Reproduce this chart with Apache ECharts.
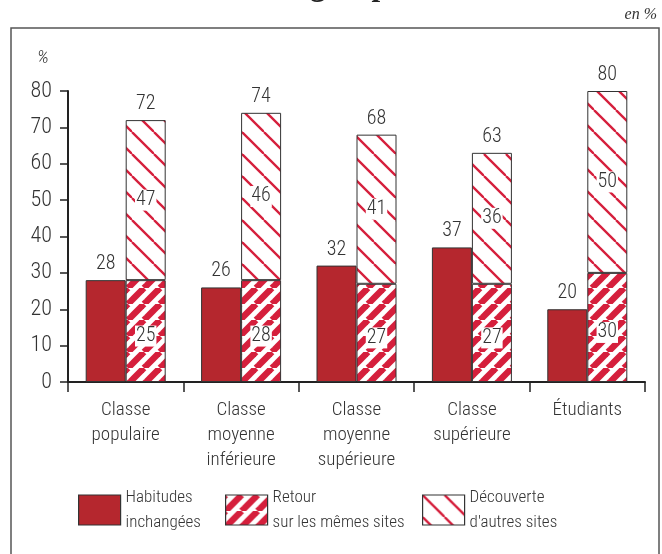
<!DOCTYPE html>
<html>
<head>
<meta charset="utf-8">
<style>
  html, body { margin: 0; padding: 0; background: #fff; }
  #chart { width: 662px; height: 554px; }
</style>
<script src="https://cdn.jsdelivr.net/npm/echarts@6/dist/echarts.min.js"></script>
</head>
<body>
<div id="chart"></div>
<script>
// data
const categories = ['Classe\npopulaire', 'Classe\nmoyenne\ninférieure', 'Classe\nmoyenne\nsupérieure', 'Classe\nsupérieure', 'Étudiants'];
const habitudes = [28, 26, 32, 37, 20];
// printed labels
const retourLabels = [25, 28, 27, 27, 30];
const decouverteLabels = [47, 46, 41, 36, 50];
const totals = [72, 74, 68, 63, 80];
// heights as drawn (the first red block is drawn up to 28)
const retourBars = [28, 28, 27, 27, 30];
const yTicks = [0, 10, 20, 30, 40, 50, 60, 70, 80];

const seriesNames = ['Habitudes inchangées', 'Retour sur les mêmes sites', "Découverte d'autres sites"];
const legendText = {
  'Habitudes inchangées': 'Habitudes\ninchangées',
  'Retour sur les mêmes sites': 'Retour\nsur les mêmes sites',
  "Découverte d'autres sites": "Découverte\nd'autres sites"
};

// Roboto with font-stretch condensed (passed through fontWeight)
const FONT = 'Roboto';
const COND = '300 condensed';
const RED_DARK = '#b5272e';
const RED = '#d51f3c';

function stripes(size, width, color, dir) {
  const c = document.createElement('canvas');
  c.width = size; c.height = size;
  const ctx = c.getContext('2d');
  ctx.fillStyle = '#fff';
  ctx.fillRect(0, 0, size, size);
  ctx.strokeStyle = color;
  ctx.lineWidth = width;
  for (let k = -1; k <= 1; k++) {
    ctx.beginPath();
    if (dir === '/') {
      ctx.moveTo(k * size, size);
      ctx.lineTo(k * size + size, 0);
    } else {
      ctx.moveTo(k * size, 0);
      ctx.lineTo(k * size + size, size);
    }
    ctx.stroke();
  }
  return c;
}

const retourPattern = { image: stripes(16, 6.5, RED, '/'), repeat: 'repeat' };
const decouvPattern = { image: stripes(22, 2.3, RED, '\\'), repeat: 'repeat' };

const decouverteBars = totals.map((t, i) => t - retourBars[i]);

const chart = echarts.init(document.getElementById('chart'), null, { renderer: 'canvas' });

const labelBase = { fontFamily: FONT, fontWeight: COND, fontSize: 20, color: '#333' };
const insideLabel = {
  show: true, position: 'inside', ...labelBase,
  backgroundColor: '#fff', padding: [1, 1, 0, 1]
};
const border = { borderColor: '#333', borderWidth: 1 };

function legendFor(i, left) {
  return {
    data: [seriesNames[i]], left: left, top: 475,
    itemWidth: 42, itemHeight: 30, itemGap: 10,
    icon: 'rect', selectedMode: false,
    itemStyle: { borderColor: '#333', borderWidth: 1.2 },
    formatter: n => legendText[n],
    textStyle: { fontFamily: FONT, fontWeight: COND, fontSize: 17, color: '#333', lineHeight: 25, padding: [10, 0, 0, 0] }
  };
}

chart.setOption({
  animation: false,
  grid: { left: 68, right: 17, top: 91, bottom: 172 },
  graphic: [
    { type: 'rect', shape: { x: 11, y: 28, width: 648, height: 560 }, style: { fill: 'none', stroke: '#555', lineWidth: 1.5 }, silent: true },
    { type: 'text', x: 342, y: -28.5, style: { text: 'Selon le groupe social', font: "bold 31px 'Liberation Serif', serif", fill: '#222', align: 'center' } },
    { type: 'text', x: 657, y: 7, style: { text: 'en %', font: "italic 16px 'Liberation Serif', serif", fill: '#333', align: 'right' } },
    { type: 'text', x: 37, y: 49, style: { text: '%', fontStyle: 'italic', fontWeight: COND, fontSize: 19, fontFamily: FONT, fill: '#333' } }
  ],
  legend: [legendFor(0, 73), legendFor(1, 220), legendFor(2, 417)],
  xAxis: {
    type: 'category', data: categories,
    axisLine: { lineStyle: { color: '#222', width: 2 } },
    axisTick: { show: true, length: 10, lineStyle: { color: '#222', width: 1.5 } },
    axisLabel: { fontFamily: FONT, fontWeight: COND, fontSize: 19, color: '#333', lineHeight: 25, margin: 16, interval: 0 }
  },
  yAxis: {
    type: 'value', min: yTicks[0], max: yTicks[yTicks.length - 1], interval: 10,
    axisLine: { show: true, lineStyle: { color: '#222', width: 2 } },
    axisTick: { show: true, length: 8, lineStyle: { color: '#222', width: 1.5 } },
    splitLine: { show: false },
    axisLabel: { fontFamily: FONT, fontWeight: COND, fontSize: 22, color: '#333', margin: 16 }
  },
  series: [
    {
      name: seriesNames[0], type: 'bar', data: habitudes, barWidth: 40, barGap: '0%',
      itemStyle: { color: RED_DARK, ...border },
      label: { show: true, position: 'top', distance: 6, ...labelBase }
    },
    {
      name: seriesNames[1], type: 'bar', stack: 'a', data: retourBars, barWidth: 40,
      itemStyle: { color: retourPattern, ...border },
      label: { ...insideLabel, offset: [0, 5], formatter: p => retourLabels[p.dataIndex] }
    },
    {
      name: seriesNames[2], type: 'bar', stack: 'a', data: decouverteBars, barWidth: 40,
      itemStyle: { color: decouvPattern, ...border },
      label: { ...insideLabel, formatter: p => decouverteLabels[p.dataIndex] }
    },
    {
      name: 'total', type: 'bar', stack: 'a', data: totals.map(() => 0), barWidth: 40,
      itemStyle: { color: 'transparent', borderWidth: 0 },
      label: { show: true, position: 'top', distance: 6, ...labelBase, formatter: p => totals[p.dataIndex] },
      silent: true
    }
  ]
});
</script>
</body>
</html>
